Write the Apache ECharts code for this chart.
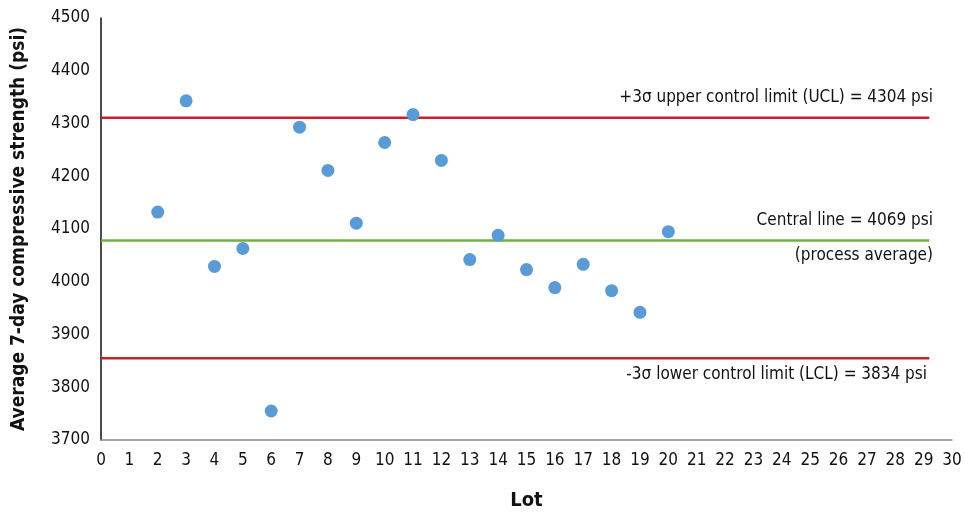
<!DOCTYPE html>
<html>
<head>
    <meta charset="utf-8">
    <title>Control chart</title>
    <script src="https://cdn.jsdelivr.net/npm/echarts@6/dist/echarts.min.js"></script>
    <style>
        html, body { margin: 0; padding: 0; background: #fff; }
    </style>
</head>
<body>
    <div id="chart" style="width: 965px; height: 516px;"></div>
    <script>
        // data
        var lots = [2, 3, 4, 5, 6, 7, 8, 9, 10, 11, 12, 13, 14, 15, 16, 17, 18, 19, 20];
        var strength = [4132, 4343, 4029, 4063, 3755, 4293, 4211, 4111, 4264, 4317, 4230, 4042, 4088, 4023, 3989, 4033, 3983, 3942, 4095];

        // where the limit lines sit on the plot, and their labels
        var uclLine = 4311;
        var centerLine = 4078;
        var lclLine = 3855;
        var lineEnd = 29.2;
        var uclText = '+3σ upper control limit (UCL) = 4304 psi';
        var centerText = 'Central line = 4069 psi';
        var centerSub = '(process average)';
        var lclText = '-3σ lower control limit (LCL) = 3834 psi';

        var font = '"Liberation Sans Narrow", "DejaVu Sans Condensed", "Roboto", sans-serif';

        var points = lots.map(function (l, i) { return [l, strength[i]]; });

        function limit(v, color) {
            return {
                type: 'line',
                data: [[0, v], [lineEnd, v]],
                symbol: 'none',
                silent: true,
                z: 1,
                lineStyle: { color: color, width: 2.5 }
            };
        }

        var chart = echarts.init(document.getElementById('chart'));
        chart.setOption({
            animation: false,
            grid: { left: 101, right: 13, top: 18, bottom: 75 },
            xAxis: {
                type: 'value', min: 0, max: 30, interval: 1,
                name: 'Lot', nameLocation: 'middle', nameGap: 51,
                nameTextStyle: { fontFamily: font, fontWeight: 'bold', fontSize: 20, color: '#111' },
                axisLine: { lineStyle: { color: '#888', width: 1.5 } },
                axisTick: { show: false },
                splitLine: { show: false },
                axisLabel: { fontFamily: font, fontSize: 17, color: '#111', margin: 12 }
            },
            yAxis: {
                type: 'value', min: 3700, max: 4500, interval: 100,
                name: 'Average 7-day compressive strength (psi)', nameLocation: 'middle', nameGap: 72,
                nameTextStyle: { fontFamily: font, fontWeight: 'bold', fontSize: 19, color: '#111' },
                axisLine: { show: true, lineStyle: { color: '#111', width: 1.5 } },
                axisTick: { show: false },
                splitLine: { show: false },
                axisLabel: {
                    fontFamily: font, fontSize: 17, color: '#111', margin: 11,
                    formatter: function (v) { return String(v); }
                }
            },
            series: [
                limit(uclLine, '#c8202f'),
                limit(centerLine, '#6fb040'),
                limit(lclLine, '#c8202f'),
                {
                    type: 'scatter',
                    data: points,
                    symbolSize: 13,
                    z: 3,
                    itemStyle: { color: '#5b9bd5', opacity: 1 }
                }
            ],
            graphic: [
                { type: 'text', right: 32, top: 89, style: { text: uclText, font: '17px ' + font, fill: '#111' } },
                { type: 'text', right: 32, top: 212, style: { text: centerText, font: '17px ' + font, fill: '#111' } },
                { type: 'text', right: 32, top: 247, style: { text: centerSub, font: '17px ' + font, fill: '#111' } },
                { type: 'text', right: 38, top: 366, style: { text: lclText, font: '17px ' + font, fill: '#111' } }
            ]
        });
    </script>
</body>
</html>
